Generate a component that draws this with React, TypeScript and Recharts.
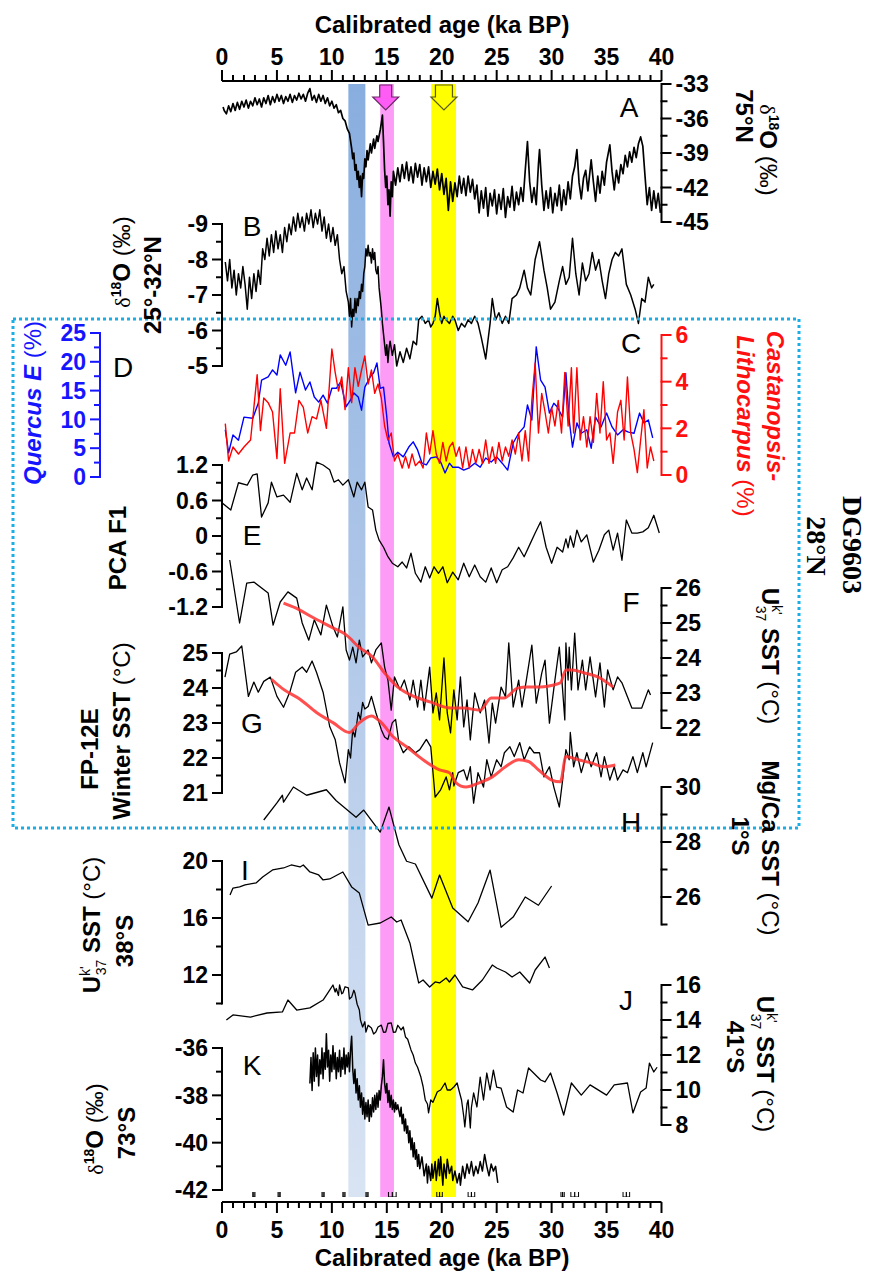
import React from 'react';
import {
  LineChart,
  Line,
  XAxis,
  YAxis,
  ComposedChart,
  ReferenceArea,
  ReferenceDot,
  Scatter,
  ErrorBar,
} from 'recharts';

const W = 872;
const H = 1274;
const X0 = 222; // pixel of 0 ka
const X40 = 661.5; // pixel of 40 ka
const FONT = '"Liberation Sans", Arial, Helvetica, sans-serif';
const SERIF = '"Liberation Serif", "Times New Roman", serif';

// ---------- data (age ka BP, value) ----------
const ageTicks = [0, 1, 2, 3, 4, 5, 6, 7, 8, 9, 10, 11, 12, 13, 14, 15, 16, 17, 18, 19, 20,
  21, 22, 23, 24, 25, 26, 27, 28, 29, 30, 31, 32, 33, 34, 35, 36, 37, 38, 39, 40];

const bands = [
  { name: 'YD', from: 11.5, to: 13.05, fill: 'url(#blueBand)' },
  { name: 'H1', from: 14.4, to: 15.65, fill: '#fd9cf6' },
  { name: 'LGM', from: 19.05, to: 21.3, fill: '#ffff00' },
];

const arrows = [
  { age: 14.9, fill: '#ff5cf5', stroke: '#6a2a66', shaft: 12, head: 26 },
  { age: 20.2, fill: '#ffff00', stroke: '#5a5a10', shaft: 17, head: 26 },
];

const ageControl = [
  { age: 2.9, err: 0.1 }, { age: 5.2, err: 0.1 }, { age: 9.2, err: 0.1 },
  { age: 11.1, err: 0.1 }, { age: 13.2, err: 0.1 }, { age: 15.5, err: 0.35 },
  { age: 19.8, err: 0.25 }, { age: 22.7, err: 0.3 }, { age: 31.0, err: 0.15 },
  { age: 32.1, err: 0.35 }, { age: 36.8, err: 0.3 },
];

// A: NGRIP d18O 75N
const ngrip: [number, number][] = [
  [0.1, -35.0], [0.2, -35.3], [0.4, -35.6], [0.6, -34.9], [0.8, -35.4], [1.0, -34.7], [1.2, -35.3], [1.4, -34.6],
  [1.6, -35.2], [1.8, -34.5], [2.0, -35.0], [2.2, -34.4], [2.4, -35.1], [2.6, -34.5], [2.8, -34.9], [3.0, -34.2],
  [3.2, -34.8], [3.4, -34.3], [3.6, -35.0], [3.8, -34.2], [4.0, -34.7], [4.2, -34.0], [4.4, -34.8], [4.6, -34.1],
  [4.8, -34.6], [5.0, -33.9], [5.2, -34.5], [5.4, -34.0], [5.6, -34.7], [5.8, -34.1], [6.0, -34.5], [6.2, -33.9],
  [6.4, -34.6], [6.6, -34.0], [6.8, -34.4], [7.0, -33.8], [7.2, -34.3], [7.4, -33.9], [7.6, -34.5], [7.8, -33.8],
  [8.0, -33.4], [8.2, -34.4], [8.4, -34.0], [8.6, -34.6], [8.8, -33.9], [9.0, -34.5], [9.2, -34.0], [9.4, -34.7],
  [9.6, -34.2], [9.8, -34.9], [10.0, -34.5], [10.2, -35.1], [10.4, -34.8], [10.6, -35.5], [10.8, -35.3], [11.0, -36.0],
  [11.2, -36.2], [11.4, -36.9], [11.6, -37.3], [11.8, -38.6], [11.9, -39.5], [12.0, -39.0], [12.1, -40.5], [12.2, -40.0],
  [12.3, -41.3], [12.4, -40.6], [12.5, -42.0], [12.6, -41.0], [12.7, -42.8], [12.8, -40.8], [12.9, -41.2], [13.0, -39.5],
  [13.1, -40.2], [13.2, -38.8], [13.3, -39.6], [13.5, -38.2], [13.6, -39.0], [13.8, -37.8], [13.9, -38.6], [14.1, -37.5],
  [14.2, -38.0], [14.4, -37.0], [14.5, -36.4], [14.6, -35.7], [14.7, -38.0], [14.8, -40.5], [14.9, -42.0], [15.0, -41.0],
  [15.1, -43.5], [15.2, -42.2], [15.3, -44.5], [15.4, -41.5], [15.5, -42.8], [15.6, -40.6], [15.8, -41.8], [16.0, -40.3],
  [16.2, -41.5], [16.4, -40.0], [16.6, -41.2], [16.8, -39.8], [17.0, -41.4], [17.2, -40.2], [17.4, -41.6], [17.6, -39.9],
  [17.8, -41.1], [18.0, -40.0], [18.2, -41.8], [18.4, -40.3], [18.6, -41.5], [18.8, -40.2], [19.0, -42.0], [19.2, -40.6],
  [19.4, -41.7], [19.6, -40.4], [19.8, -42.2], [20.0, -40.8], [20.2, -42.6], [20.4, -41.2], [20.6, -44.0], [20.8, -41.5],
  [21.0, -43.2], [21.2, -41.6], [21.4, -42.8], [21.6, -41.0], [21.8, -42.5], [22.0, -41.2], [22.2, -42.7], [22.4, -41.0],
  [22.6, -42.4], [22.8, -41.3], [23.0, -43.0], [23.2, -41.8], [23.4, -44.2], [23.6, -42.3], [23.8, -43.8], [24.0, -42.0],
  [24.2, -44.5], [24.4, -42.5], [24.6, -43.6], [24.8, -42.2], [25.0, -44.3], [25.2, -42.6], [25.4, -43.9], [25.6, -42.1],
  [25.8, -44.6], [26.0, -42.8], [26.2, -43.7], [26.4, -41.9], [26.6, -44.0], [26.8, -42.4], [27.0, -43.5], [27.2, -42.0],
  [27.4, -43.2], [27.6, -40.5], [27.8, -38.0], [28.0, -41.5], [28.2, -43.3], [28.4, -42.0], [28.6, -43.5], [28.8, -40.0],
  [28.9, -38.7], [29.1, -41.8], [29.3, -44.0], [29.5, -42.3], [29.7, -43.8], [29.9, -42.0], [30.1, -44.2], [30.3, -42.5],
  [30.5, -43.6], [30.7, -41.8], [30.9, -44.0], [31.1, -42.2], [31.3, -43.5], [31.5, -41.5], [31.7, -43.0], [31.9, -41.0],
  [32.1, -40.2], [32.3, -38.7], [32.5, -41.6], [32.7, -43.0], [32.9, -41.2], [33.1, -40.5], [33.3, -42.3], [33.6, -39.6],
  [33.8, -41.5], [34.0, -43.2], [34.2, -41.0], [34.4, -42.5], [34.6, -40.6], [34.8, -41.8], [35.0, -39.8], [35.3, -38.3],
  [35.5, -40.6], [35.7, -42.2], [35.9, -40.5], [36.1, -41.6], [36.3, -40.0], [36.5, -40.8], [36.7, -39.2], [36.9, -40.2],
  [37.1, -38.9], [37.3, -39.8], [37.5, -38.5], [37.7, -39.4], [37.9, -38.2], [38.1, -37.6], [38.3, -38.4], [38.5, -41.0],
  [38.7, -43.5], [38.9, -42.0], [39.1, -44.0], [39.3, -42.3], [39.5, -43.8], [39.7, -42.5], [39.9, -44.2],
];

// B: Chinese speleothem d18O 25-32N
const cave: [number, number][] = [
  [0.3, -7.93], [0.5, -7.4], [0.7, -8.0], [0.9, -7.2], [1.1, -7.7], [1.3, -7.0], [1.5, -7.6], [1.7, -7.2], [1.9, -7.8],
  [2.1, -7.3], [2.3, -6.6], [2.5, -7.5], [2.7, -6.9], [2.9, -7.6], [3.1, -7.1], [3.3, -7.7], [3.5, -7.3], [3.7, -8.3],
  [3.9, -8.0], [4.1, -8.6], [4.3, -8.1], [4.5, -8.7], [4.7, -8.2], [4.9, -8.8], [5.1, -8.3], [5.3, -8.7], [5.5, -8.2],
  [5.7, -8.9], [5.9, -8.5], [6.1, -9.0], [6.3, -8.7], [6.5, -9.2], [6.7, -8.8], [6.9, -9.3], [7.1, -8.9], [7.3, -9.2],
  [7.5, -8.8], [7.7, -9.3], [7.9, -9.0], [8.1, -9.4], [8.3, -8.9], [8.5, -9.3], [8.7, -9.0], [8.9, -9.4], [9.1, -8.8],
  [9.3, -9.2], [9.5, -8.6], [9.7, -9.0], [9.9, -8.5], [10.1, -8.9], [10.3, -8.4], [10.5, -8.7], [10.7, -8.0], [10.9, -7.6],
  [11.1, -7.8], [11.3, -7.1], [11.5, -6.8], [11.6, -6.4], [11.7, -6.9], [11.8, -6.1], [11.9, -6.6], [12.0, -6.4],
  [12.1, -6.9], [12.2, -6.5], [12.3, -6.9], [12.4, -6.7], [12.5, -7.1], [12.6, -6.9], [12.7, -7.3], [12.8, -7.1],
  [12.9, -7.6], [13.0, -7.8], [13.1, -8.3], [13.2, -8.1], [13.3, -8.4], [13.4, -8.1], [13.5, -8.2], [13.6, -7.9],
  [13.7, -8.3], [13.8, -8.0], [13.9, -8.2], [14.0, -7.7], [14.1, -7.6], [14.2, -7.8], [14.3, -7.2], [14.4, -6.9],
  [14.5, -6.6], [14.6, -6.2], [14.7, -5.9], [14.8, -5.6], [14.9, -5.3], [15.0, -5.6], [15.1, -5.1], [15.2, -5.5],
  [15.3, -5.7], [15.5, -5.3], [15.7, -5.6], [15.9, -5.0], [16.2, -5.4], [16.5, -5.1], [16.8, -5.5], [17.1, -5.2],
  [17.4, -5.7], [17.7, -5.6], [17.9, -6.3], [18.2, -6.4], [18.5, -6.2], [18.8, -6.3], [19.0, -6.1], [19.2, -6.2],
  [19.4, -6.4], [19.6, -6.9], [19.8, -6.5], [20.0, -6.2], [20.2, -6.4], [20.4, -6.3], [20.7, -6.2], [21.0, -6.4],
  [21.2, -6.3], [21.5, -6.0], [21.8, -6.2], [22.1, -6.1], [22.4, -6.3], [22.7, -6.2], [23.0, -6.4], [23.3, -6.2],
  [23.6, -5.8], [24.0, -5.2], [24.4, -6.2], [24.6, -6.9], [24.9, -6.3], [25.2, -6.5], [25.5, -6.2], [25.8, -6.4],
  [26.1, -6.2], [26.4, -6.9], [26.8, -7.0], [27.1, -7.2], [27.5, -7.7], [27.8, -7.2], [28.1, -7.0], [28.5, -8.0],
  [28.9, -8.5], [29.3, -7.7], [29.6, -7.2], [29.9, -6.6], [30.3, -6.8], [30.7, -7.4], [31.0, -7.8], [31.3, -7.3],
  [31.6, -7.5], [31.9, -8.6], [32.2, -7.6], [32.5, -7.0], [32.8, -7.9], [33.1, -7.4], [33.4, -7.6], [33.7, -8.2],
  [34.0, -7.7], [34.3, -8.0], [34.6, -7.4], [34.9, -6.9], [35.2, -7.6], [35.5, -8.0], [35.8, -8.2], [36.1, -8.1],
  [36.4, -8.3], [36.8, -7.3], [37.2, -7.0], [37.6, -6.6], [37.9, -6.2], [38.2, -6.9], [38.5, -6.8], [38.8, -7.5],
  [39.1, -7.2], [39.3, -7.3],
];

// D: Quercus E (%)
const quercus: [number, number][] = [
  [0.3, 8.2], [0.6, 4.2], [1.0, 7.3], [1.5, 6.4], [2.0, 10.4], [2.8, 10.2], [3.3, 12.8], [3.6, 16.8], [4.2, 17.4],
  [4.6, 18.6], [5.0, 17.7], [5.3, 21.2], [5.8, 19.4], [6.2, 21.7], [6.7, 14.6], [7.1, 18.2], [7.6, 15.1], [8.0, 16.5],
  [8.4, 13.9], [8.8, 13.0], [9.2, 14.2], [9.6, 12.8], [10.0, 15.4], [10.4, 15.4], [10.8, 16.5], [11.3, 12.2],
  [11.7, 13.4], [12.0, 14.6], [12.4, 13.9], [12.7, 11.6], [13.0, 15.6], [13.5, 17.4], [13.8, 18.1], [14.1, 19.8],
  [14.4, 15.4], [14.7, 15.6], [15.0, 10.4], [15.2, 5.9], [15.6, 3.5], [16.0, 4.3], [16.5, 3.5], [17.0, 5.2],
  [17.4, 6.1], [17.8, 4.7], [18.2, 2.4], [18.6, 2.1], [19.0, 3.3], [19.5, 3.5], [19.9, 2.6], [20.3, 0.7], [20.7, 2.4],
  [21.0, 1.7], [21.5, 1.7], [22.0, 1.2], [22.5, 1.6], [23.0, 2.4], [23.5, 1.7], [24.0, 3.3], [24.5, 2.6], [25.0, 3.5],
  [25.5, 2.4], [26.0, 1.2], [26.5, 5.9], [27.0, 7.6], [27.5, 8.7], [27.8, 12.5], [28.2, 9.9], [28.6, 22.6],
  [29.0, 16.8], [29.4, 15.6], [29.8, 11.1], [30.2, 12.8], [30.5, 12.2], [31.0, 10.4], [31.3, 18.1], [31.6, 9.9],
  [31.9, 5.2], [32.3, 9.4], [32.7, 7.6], [33.2, 8.2], [33.6, 5.0], [34.0, 10.4], [34.5, 8.7], [35.0, 11.1],
  [35.5, 8.7], [36.0, 7.3], [36.5, 8.2], [37.0, 7.8], [37.5, 7.6], [38.0, 11.1], [38.4, 9.4], [38.8, 9.9], [39.2, 6.8],
];

// C: Castanopsis-Lithocarpus (%)
const castanopsis: [number, number][] = [
  [0.3, 2.2], [0.6, 0.6], [1.0, 1.2], [1.5, 0.9], [2.0, 1.2], [2.6, 1.5], [3.2, 4.3], [3.5, 1.9], [3.8, 3.3], [4.2, 3.1],
  [4.6, 2.7], [5.0, 0.7], [5.3, 3.7], [5.7, 0.5], [6.2, 1.8], [6.6, 1.8], [7.0, 3.2], [7.4, 2.9], [7.8, 1.8], [8.2, 2.5],
  [8.6, 2.4], [9.0, 3.2], [9.5, 2.0], [10.0, 5.4], [10.3, 4.4], [10.6, 3.6], [10.9, 4.2], [11.2, 2.8], [11.5, 4.6],
  [11.8, 3.1], [12.1, 4.6], [12.4, 3.8], [12.7, 4.5], [13.0, 5.1], [13.3, 3.9], [13.6, 4.5], [13.9, 3.5], [14.2, 3.9],
  [14.5, 3.3], [14.8, 2.1], [15.1, 1.5], [15.4, 1.8], [15.7, 0.6], [16.0, 0.9], [16.4, 0.3], [16.7, 0.8], [17.0, 0.3],
  [17.3, 0.9], [17.6, 0.4], [18.0, 0.6], [18.3, 0.3], [18.6, 1.8], [18.9, 0.9], [19.2, 1.9], [19.5, 0.9], [19.8, 0.5],
  [20.1, 1.4], [20.4, 0.6], [20.7, 1.2], [21.0, 1.4], [21.3, 0.8], [21.6, 1.2], [21.9, 0.3], [22.2, 1.2], [22.5, 0.3],
  [22.8, 1.1], [23.1, 0.5], [23.4, 1.1], [23.7, 0.5], [24.0, 1.5], [24.3, 0.5], [24.6, 1.2], [24.9, 0.5], [25.2, 1.4],
  [25.5, 0.6], [25.8, 1.2], [26.1, 0.8], [26.4, 1.5], [26.7, 0.9], [27.0, 1.8], [27.3, 0.6], [27.6, 1.9], [27.9, 0.6],
  [28.2, 3.2], [28.5, 4.8], [28.8, 1.8], [29.1, 3.5], [29.4, 2.7], [29.7, 1.8], [30.0, 2.9], [30.3, 2.1], [30.6, 3.2],
  [30.9, 1.8], [31.2, 4.4], [31.5, 2.1], [31.8, 4.6], [32.0, 1.8], [32.3, 4.6], [32.6, 1.5], [32.9, 2.5], [33.2, 1.2],
  [33.5, 2.5], [33.8, 1.4], [34.1, 3.5], [34.4, 1.8], [34.7, 4.0], [35.0, 1.5], [35.3, 1.8], [35.6, 0.5], [36.0, 2.7],
  [36.3, 3.2], [36.6, 1.5], [36.9, 4.2], [37.2, 1.8], [37.5, 1.1], [37.8, 0.1], [38.1, 1.5], [38.4, 2.8], [38.7, 0.3],
  [39.0, 1.2], [39.3, 0.6],
];

// E: PCA F1
const pcaF1: [number, number][] = [
  [0.0, 0.56], [0.8, 0.44], [1.5, 0.9], [2.3, 0.86], [2.8, 1.03], [3.2, 1.05], [3.6, 0.32], [4.2, 0.56], [4.5, 0.91],
  [5.0, 0.66], [5.6, 0.69], [6.2, 0.57], [6.8, 1.06], [7.3, 0.78], [7.7, 0.98], [8.2, 0.78], [8.6, 1.25], [9.2, 1.2],
  [9.8, 1.12], [10.2, 0.91], [10.6, 0.95], [11.0, 0.86], [11.5, 0.95], [12.0, 0.66], [12.3, 0.91], [12.7, 0.78],
  [13.0, 0.91], [13.3, 0.49], [13.7, 0.44], [14.0, 0.1], [14.3, -0.07], [14.7, -0.19], [15.1, -0.35], [15.5, -0.46],
  [16.0, -0.52], [16.4, -0.44], [16.8, -0.54], [17.2, -0.29], [17.6, -0.63], [18.1, -0.78], [18.5, -0.52],
  [18.9, -0.71], [19.3, -0.52], [19.7, -0.63], [20.1, -0.52], [20.5, -0.79], [21.0, -0.61], [21.5, -0.74],
  [22.0, -0.46], [22.5, -0.69], [23.0, -0.49], [23.5, -0.69], [24.0, -0.78], [24.5, -0.54], [25.0, -0.79],
  [25.5, -0.57], [26.0, -0.52], [26.5, -0.37], [27.0, -0.19], [27.5, -0.35], [28.0, -0.15], [28.5, 0.05],
  [29.0, 0.24], [29.5, -0.19], [30.0, -0.46], [30.5, -0.19], [31.0, -0.27], [31.3, -0.05], [31.5, -0.2], [31.7, 0.0],
  [32.0, -0.19], [32.3, 0.1], [32.7, -0.1], [33.2, 0.02], [33.8, -0.44], [34.3, -0.24], [34.8, 0.02], [35.2, 0.1],
  [35.6, -0.24], [36.0, 0.05], [36.4, -0.41], [36.8, 0.27], [37.3, 0.05], [37.8, 0.05], [38.3, 0.07], [38.8, 0.14],
  [39.3, 0.35], [39.8, 0.05],
];

// F: DG9603 Uk37 SST
const dgSst: [number, number][] = [
  [0.7, 26.8], [1.6, 25.0], [2.25, 26.14], [2.9, 26.17], [4.2, 25.86], [4.65, 24.94], [5.3, 25.6], [6.0, 25.89],
  [6.8, 25.71], [7.3, 25.0], [7.9, 24.51], [8.4, 25.09], [9.0, 24.66], [9.5, 25.51], [10.1, 24.89], [10.5, 24.6],
  [11.0, 25.46], [11.3, 24.23], [11.6, 23.94], [11.9, 24.31], [12.2, 23.86], [12.5, 24.51], [12.8, 24.03],
  [13.3, 24.23], [13.6, 23.86], [14.0, 24.23], [14.5, 24.43], [14.8, 23.74], [15.1, 23.37], [15.4, 22.51],
  [15.7, 23.46], [16.2, 23.09], [16.6, 23.37], [17.1, 22.8], [17.4, 23.37], [17.8, 22.6], [18.1, 23.37], [18.4, 22.51],
  [18.9, 23.74], [19.2, 22.43], [19.5, 23.0], [19.8, 22.23], [20.2, 24.0], [20.5, 22.43], [20.8, 21.86], [21.1, 23.09],
  [21.4, 22.23], [21.7, 23.46], [22.0, 22.03], [22.3, 22.8], [22.6, 21.66], [23.0, 23.0], [23.5, 22.43], [23.9, 22.8],
  [24.3, 21.57], [24.6, 22.71], [24.9, 22.14], [25.4, 23.17], [25.8, 22.89], [26.1, 24.43], [26.5, 22.6], [27.0, 23.37],
  [27.3, 22.6], [27.7, 23.37], [28.2, 24.37], [28.6, 22.71], [29.1, 23.57], [29.4, 23.94], [29.8, 22.14], [30.3, 23.37],
  [30.7, 24.31], [31.0, 23.09], [31.2, 22.23], [31.3, 24.43], [31.5, 23.37], [31.6, 24.31], [31.8, 23.09], [32.1, 24.71],
  [32.4, 23.09], [32.8, 23.94], [33.1, 23.09], [33.5, 24.03], [34.0, 22.89], [34.4, 23.86], [34.8, 22.6], [35.1, 23.66],
  [35.6, 23.09], [36.0, 23.46], [36.4, 23.29], [36.9, 22.89], [37.3, 22.57], [38.2, 22.57], [38.8, 23.09], [39.0, 22.94],
];
const dgSstSmooth: [number, number][] = [
  [5.6, 25.57], [6.7, 25.43], [8.2, 25.17], [10.1, 24.86], [11.3, 24.66], [12.5, 24.3], [13.7, 24.03], [14.8, 23.57],
  [16.0, 23.17], [17.2, 22.94], [19.0, 22.74], [20.8, 22.57], [22.0, 22.57], [23.5, 22.51], [24.5, 22.86], [25.7, 22.86],
  [26.9, 23.14], [27.8, 23.17], [29.0, 23.17], [30.2, 23.23], [30.8, 23.29], [31.3, 23.66], [31.9, 23.66], [33.0, 23.57],
  [34.2, 23.46], [35.6, 23.17],
];

// G: FP-12E winter SST
const fpSst: [number, number][] = [
  [0.27, 24.31], [0.7, 24.97], [1.3, 25.03], [1.8, 25.2], [2.4, 23.76], [2.9, 24.17], [3.3, 23.88], [3.8, 24.19],
  [4.4, 24.31], [5.0, 23.76], [5.6, 23.45], [6.2, 23.91], [6.7, 24.45], [7.3, 24.6], [7.7, 24.45], [8.2, 24.77],
  [8.6, 24.45], [9.2, 23.88], [9.8, 22.9], [10.3, 22.53], [10.7, 21.86], [11.2, 21.29], [11.5, 22.24], [11.7, 22.0],
  [11.9, 22.81], [12.1, 22.6], [12.4, 23.3], [12.6, 23.1], [12.8, 23.59], [13.0, 23.4], [13.3, 23.47], [13.6, 23.76],
  [14.0, 23.3], [14.5, 22.81], [14.8, 22.6], [15.1, 22.53], [15.5, 23.01], [15.8, 23.1], [16.1, 22.44], [16.5, 22.15],
  [17.0, 22.32], [17.6, 22.15], [18.0, 22.24], [18.6, 22.53], [19.0, 22.32], [19.2, 21.6], [19.4, 20.88], [19.9, 21.09],
  [20.4, 21.46], [20.7, 21.09], [21.0, 21.58], [21.1, 21.2], [21.5, 21.58], [22.0, 21.66], [22.3, 21.37], [22.6, 21.75],
  [22.9, 20.71], [23.3, 21.58], [23.8, 21.17], [24.1, 21.95], [24.5, 21.46], [25.0, 21.95], [25.4, 21.75], [25.7, 22.15],
  [26.2, 22.32], [26.6, 22.04], [27.1, 22.44], [27.5, 21.95], [28.0, 22.32], [28.4, 22.15], [28.9, 22.15], [29.3, 21.46],
  [29.8, 21.75], [30.2, 21.17], [30.7, 20.6], [31.0, 21.37], [31.3, 22.24], [31.6, 21.95], [31.7, 22.73], [32.0, 21.75],
  [32.3, 22.15], [32.7, 21.58], [33.2, 22.15], [33.6, 21.75], [34.1, 22.15], [34.5, 21.46], [34.8, 22.04], [35.3, 21.37],
  [35.7, 21.75], [36.0, 21.37], [36.5, 21.66], [36.9, 21.58], [37.4, 22.04], [37.8, 21.58], [38.3, 22.15], [38.6, 21.75],
  [39.2, 22.44],
];
const fpSstSmooth: [number, number][] = [
  [4.5, 24.25], [5.6, 23.96], [7.1, 23.68], [8.6, 23.3], [10.1, 23.01], [11.6, 22.73], [12.5, 23.01], [13.6, 23.2],
  [14.5, 23.01], [15.6, 22.6], [16.8, 22.32], [18.3, 21.95], [19.8, 21.66], [20.7, 21.58], [21.3, 21.29], [22.2, 21.17],
  [23.4, 21.29], [24.6, 21.46], [25.8, 21.75], [27.0, 21.95], [27.9, 21.9], [28.8, 21.66], [30.0, 21.37], [30.8, 21.32],
  [31.3, 22.04], [32.4, 21.95], [33.6, 21.86], [34.8, 21.75], [35.8, 21.8],
];

// H: Mg/Ca SST 1S
const mgca: [number, number][] = [
  [3.8, 28.8], [5.0, 29.42], [5.5, 29.7], [5.6, 29.45], [6.5, 30.0], [7.7, 29.7], [9.5, 29.9], [10.4, 29.5],
  [12.2, 28.9], [12.9, 29.16], [14.4, 28.36], [15.2, 29.27], [16.1, 27.9], [16.8, 27.3], [17.6, 27.2], [19.1, 25.96],
  [19.8, 26.8], [21.0, 25.6], [22.4, 25.1], [23.3, 25.78], [24.4, 26.98], [25.4, 24.9], [26.5, 25.27], [27.6, 26.0],
  [28.8, 25.7], [30.0, 26.4],
];

// I: Uk37 SST 38S
const sst38s: [number, number][] = [
  [0.73, 17.61], [1.0, 18.1], [1.6, 18.18], [2.1, 18.32], [3.1, 18.46], [3.7, 18.88], [4.6, 19.37], [5.6, 19.51],
  [6.3, 19.72], [7.1, 19.58], [7.4, 19.72], [8.0, 19.23], [8.8, 19.02], [9.2, 18.67], [9.8, 18.74], [11.0, 19.23],
  [11.8, 18.18], [12.5, 17.75], [13.3, 15.5], [14.4, 15.65], [15.4, 16.07], [15.9, 15.72], [16.3, 15.86], [17.1, 14.25],
  [17.7, 12.14], [17.9, 11.44], [18.3, 11.65], [18.9, 11.16], [19.4, 11.51], [19.8, 11.44], [20.4, 11.79], [20.7, 11.51],
  [21.2, 12.0], [21.9, 11.16], [22.8, 10.95], [23.7, 11.65], [24.6, 12.7], [25.0, 12.49], [25.8, 12.21], [26.4, 11.86],
  [27.1, 12.21], [28.0, 11.44], [28.5, 12.35], [29.4, 13.26], [29.8, 12.49],
];

// J: Uk37 SST 41S
const sst41s: [number, number][] = [
  [0.4, 14.0], [1.0, 14.29], [2.6, 14.17], [4.1, 14.4], [5.5, 14.46], [6.0, 15.14], [6.8, 14.57], [8.0, 14.69],
  [9.2, 15.14], [9.8, 15.71], [10.1, 16.0], [10.3, 15.6], [10.4, 15.8], [10.6, 15.4], [10.7, 16.0], [10.9, 15.5],
  [11.0, 15.54], [11.2, 15.9], [11.5, 15.83], [11.6, 15.2], [11.8, 15.31], [12.0, 15.7], [12.1, 15.54], [12.3, 14.9],
  [12.4, 14.74], [12.5, 14.57], [12.6, 14.0], [12.8, 13.6], [13.0, 13.9], [13.1, 13.31], [13.3, 13.7], [13.6, 13.54],
  [13.8, 13.2], [14.0, 13.31], [14.2, 13.6], [14.5, 13.71], [14.7, 13.3], [14.9, 13.31], [15.1, 13.8], [15.4, 13.83],
  [15.6, 13.3], [15.8, 13.31], [16.0, 13.7], [16.3, 13.43], [16.5, 13.6], [16.7, 13.03], [16.9, 12.9], [17.2, 12.29],
  [17.4, 12.0], [17.6, 11.54], [17.8, 11.3], [18.1, 10.74], [18.3, 10.2], [18.5, 9.43], [18.7, 9.2], [18.8, 8.69],
  [19.0, 9.43], [19.2, 9.3], [19.4, 9.6], [19.6, 9.9], [19.9, 10.0], [20.1, 10.2], [20.3, 10.4], [20.5, 10.0],
  [20.8, 10.0], [21.1, 10.17], [21.4, 10.4], [21.6, 9.9], [21.8, 9.43], [22.0, 8.5], [22.1, 7.89], [22.3, 9.2],
  [22.4, 9.43], [22.6, 7.83], [22.7, 9.0], [22.9, 9.83], [23.2, 9.03], [23.5, 10.74], [23.8, 9.43], [24.1, 10.97],
  [24.4, 10.0], [24.7, 11.14], [25.0, 10.17], [25.4, 10.11], [25.9, 9.03], [26.5, 8.74], [26.9, 10.0], [27.4, 9.83],
  [27.9, 11.26], [29.0, 10.57], [29.4, 10.46], [29.9, 10.97], [30.5, 9.83], [31.1, 8.57], [31.8, 10.4], [32.7, 9.71],
  [33.5, 10.29], [35.0, 9.71], [35.7, 10.29], [36.9, 10.4], [37.4, 8.69], [38.1, 9.89], [38.6, 10.11], [38.9, 11.54],
  [39.3, 11.03], [39.6, 11.3],
];

// K: Antarctic d18O 73S
const antarctic: [number, number][] = [
  [8.0, -37.5], [8.1, -36.4], [8.2, -37.8], [8.3, -36.2], [8.4, -37.4], [8.5, -36.0], [8.6, -37.2], [8.7, -36.3],
  [8.8, -37.6], [8.9, -36.5], [9.0, -37.1], [9.1, -36.0], [9.2, -37.3], [9.3, -36.2], [9.4, -36.9], [9.5, -35.4],
  [9.6, -36.8], [9.7, -36.1], [9.8, -37.4], [9.9, -36.3], [10.0, -37.0], [10.1, -35.9], [10.2, -36.9], [10.3, -36.2],
  [10.4, -37.3], [10.5, -36.4], [10.6, -37.0], [10.7, -36.1], [10.8, -37.2], [10.9, -36.4], [11.0, -36.9], [11.1, -36.0],
  [11.2, -37.1], [11.3, -36.3], [11.4, -36.8], [11.5, -36.2], [11.6, -37.0], [11.7, -36.1], [11.8, -35.5], [11.9, -36.9],
  [12.0, -37.5], [12.1, -36.9], [12.2, -37.9], [12.3, -37.3], [12.4, -38.2], [12.5, -37.6], [12.6, -38.5], [12.7, -37.9],
  [12.8, -38.8], [12.9, -38.1], [13.0, -39.0], [13.1, -38.3], [13.2, -38.9], [13.3, -38.2], [13.4, -39.1], [13.5, -38.4],
  [13.6, -38.9], [13.7, -38.1], [13.8, -38.7], [13.9, -38.0], [14.0, -38.6], [14.1, -37.9], [14.2, -38.5], [14.3, -37.8],
  [14.4, -38.2], [14.5, -37.6], [14.6, -37.2], [14.7, -36.5], [14.8, -37.5], [14.9, -37.9], [15.0, -37.5], [15.1, -38.3],
  [15.2, -37.8], [15.3, -38.5], [15.4, -38.0], [15.5, -38.6], [15.6, -38.2], [15.7, -38.7], [15.8, -38.3], [15.9, -38.6],
  [16.0, -38.4], [16.2, -38.9], [16.3, -38.5], [16.4, -39.2], [16.5, -38.8], [16.6, -39.5], [16.7, -39.0], [16.8, -39.6],
  [16.9, -39.3], [17.0, -40.0], [17.1, -39.5], [17.2, -40.3], [17.3, -39.8], [17.4, -40.6], [17.5, -40.0], [17.6, -40.7],
  [17.7, -40.3], [17.8, -41.0], [17.9, -40.5], [18.0, -41.1], [18.2, -40.6], [18.4, -41.4], [18.6, -40.9], [18.7, -41.7],
  [18.8, -41.0], [19.0, -41.6], [19.1, -40.9], [19.2, -41.5], [19.4, -40.8], [19.5, -41.6], [19.7, -40.7], [19.8, -41.4],
  [19.9, -40.6], [20.1, -41.8], [20.2, -40.9], [20.4, -41.5], [20.5, -40.7], [20.7, -41.3], [20.9, -41.0], [21.0, -41.6],
  [21.2, -41.2], [21.4, -41.7], [21.6, -41.3], [21.7, -41.8], [21.9, -41.0], [22.1, -41.5], [22.3, -40.9], [22.5, -41.3],
  [22.7, -40.8], [22.9, -41.4], [23.1, -41.0], [23.3, -41.3], [23.5, -40.8], [23.7, -41.2], [23.9, -40.5], [24.1, -41.0],
  [24.3, -41.4], [24.5, -40.9], [24.7, -41.2], [24.9, -41.0], [25.1, -41.7],
];

// axis ticks (all ticks, then labelled ticks)
const ticksA = [-33, -34.5, -36, -37.5, -39, -40.5, -42, -43.5, -45];
const labelsA = [-33, -36, -39, -42, -45];
const ticksB = [-9, -8.5, -8, -7.5, -7, -6.5, -6, -5.5, -5];
const labelsB = [-9, -8, -7, -6, -5];
const ticksD = [25, 22.5, 20, 17.5, 15, 12.5, 10, 7.5, 5, 2.5, 0];
const labelsD = [25, 20, 15, 10, 5, 0];
const ticksC = [6, 5, 4, 3, 2, 1, 0];
const labelsC = [6, 4, 2, 0];
const ticksE = [1.2, 0.9, 0.6, 0.3, 0, -0.3, -0.6, -0.9, -1.2];
const labelsE = [1.2, 0.6, 0, -0.6, -1.2];
const ticksF = [26, 25.5, 25, 24.5, 24, 23.5, 23, 22.5, 22];
const labelsF = [26, 25, 24, 23, 22];
const ticksG = [25, 24.5, 24, 23.5, 23, 22.5, 22, 21.5, 21];
const labelsG = [25, 24, 23, 22, 21];
const ticksH = [30, 29, 28, 27, 26, 25];
const labelsH = [30, 28, 26];
const ticksI = [20, 18, 16, 14, 12, 10];
const labelsI = [20, 16, 12];
const ticksJ = [16, 15, 14, 13, 12, 11, 10, 9, 8];
const labelsJ = [16, 14, 12, 10, 8];
const ticksK = [-36, -37, -38, -39, -40, -41, -42];
const labelsK = [-36, -38, -40, -42];

// ---------- helpers ----------
type Pt = [number, number];
type AxisCfg = {
  id: string;
  side: 'left' | 'right';
  x: number;
  color: string;
  v1: number; p1: number; v2: number; p2: number;
  ticks: number[];
  labels: number[];
  reversed?: boolean;
};
type SeriesCfg = { axis: string; data: Pt[]; color: string; width: number; smooth?: boolean; opacity?: number };

const tickFont = { fontFamily: FONT, fontWeight: 700, fontSize: 23 };

const makeTick = (a: AxisCfg) => (props: any) => {
  const { y, payload } = props;
  const v = payload.value as number;
  const pxPer = (a.p2 - a.p1) / (a.v2 - a.v1);
  const idx = a.ticks.findIndex((t) => Math.abs(t - v) < 1e-9);
  const major = a.labels.some((l) => Math.abs(l - v) < 1e-9);
  const dir = a.side === 'left' ? -1 : 1;
  const next = a.ticks[idx + 1];
  const nextY = next === undefined ? null : y + (next - v) * pxPer;
  return (
    <g>
      <line x1={a.x} x2={a.x + dir * (major ? 10 : 6)} y1={y} y2={y} stroke={a.color} strokeWidth={2} />
      {nextY !== null && <line x1={a.x} x2={a.x} y1={y - 1} y2={nextY + 1} stroke={a.color} strokeWidth={2} />}
      {major && (
        <text x={a.x + dir * 14} y={y} dy="0.36em" textAnchor={dir < 0 ? 'end' : 'start'} fill={a.color} style={tickFont}>
          {String(v)}
        </text>
      )}
    </g>
  );
};

// each panel chart is padded so tick labels at the axis ends are not clipped
const PAD = 18;

function Panel({ top, bottom, axes, series }: { top: number; bottom: number; axes: AxisCfg[]; series: SeriesCfg[] }) {
  const AW = 10;
  const t = top - PAD;
  const b = bottom + PAD;
  const hasLeft = axes.some((a) => a.side === 'left');
  const hasRight = axes.some((a) => a.side === 'right');
  return (
    <div style={{ position: 'absolute', left: 0, top: t }}>
      <LineChart
        width={W}
        height={b - t}
        margin={{ top: 0, bottom: 0, left: X0 - (hasLeft ? AW : 0), right: W - X40 - (hasRight ? AW : 0) }}
      >
        <XAxis type="number" dataKey="age" domain={[0, 40]} allowDataOverflow hide />
        {axes.map((a) => {
          const s = (a.v2 - a.v1) / (a.p2 - a.p1);
          const atTop = a.v1 + (t - a.p1) * s;
          const atBottom = a.v1 + (b - a.p1) * s;
          const domain = a.reversed ? [atTop, atBottom] : [atBottom, atTop];
          return (
            <YAxis
              key={a.id}
              yAxisId={a.id}
              orientation={a.side}
              width={AW}
              type="number"
              domain={domain}
              allowDataOverflow
              reversed={a.reversed}
              ticks={a.ticks}
              interval={0}
              axisLine={false}
              tickLine={false}
              tick={makeTick(a)}
            />
          );
        })}
        {series.map((s, i) => (
          <Line
            key={i}
            yAxisId={s.axis}
            data={s.data.map(([age, v]) => ({ age, v }))}
            dataKey="v"
            type={s.smooth ? 'monotone' : 'linear'}
            stroke={s.color}
            strokeWidth={s.width}
            strokeOpacity={s.opacity ?? 1}
            strokeLinejoin="round"
            dot={false}
            isAnimationActive={false}
          />
        ))}
      </LineChart>
    </div>
  );
}

const BAND_TOP = 84;
const BAND_BOTTOM = 1197;

const arrowShape = (a: (typeof arrows)[number]) => (p: any) => {
  const { cx, cy } = p;
  const sh = a.shaft / 2;
  const hd = a.head / 2;
  const d = `M${cx - sh},${cy + 1} L${cx + sh},${cy + 1} L${cx + sh},${cy + 13} L${cx + hd},${cy + 13} L${cx},${cy + 26} L${cx - hd},${cy + 13} L${cx - sh},${cy + 13} Z`;
  return <path d={d} fill={a.fill} stroke={a.stroke} strokeWidth={1.2} />;
};

const markerShape = (p: any) => {
  const { cx, cy } = p;
  return <line x1={cx} x2={cx} y1={cy - 5} y2={cy + 1} stroke="#000" strokeWidth={1.2} />;
};

function BandsChart() {
  return (
    <div style={{ position: 'absolute', left: 0, top: BAND_TOP }}>
      <ComposedChart width={W} height={BAND_BOTTOM - BAND_TOP} margin={{ top: 0, bottom: 0, left: X0, right: W - X40 }}>
        <defs>
          <linearGradient id="blueBand" x1="0" y1="0" x2="0" y2="1">
            <stop offset="0%" stopColor="#88aedf" />
            <stop offset="45%" stopColor="#aec6e8" />
            <stop offset="100%" stopColor="#d9e4f3" />
          </linearGradient>
        </defs>
        <XAxis type="number" dataKey="age" domain={[0, 40]} hide />
        <YAxis type="number" dataKey="y" domain={[0, 1]} hide />
        {bands.map((b) => (
          <ReferenceArea key={b.name} x1={b.from} x2={b.to} fill={b.fill} fillOpacity={1} stroke="none" />
        ))}
        {arrows.map((a) => (
          <ReferenceDot key={a.age} x={a.age} y={1} r={1} shape={arrowShape(a)} ifOverflow="visible" />
        ))}
        <Scatter data={ageControl.map((d) => ({ ...d, y: 0 }))} shape={markerShape} isAnimationActive={false}>
          <ErrorBar dataKey="err" direction="x" width={5} stroke="#000" strokeWidth={1} />
        </Scatter>
      </ComposedChart>
    </div>
  );
}

const AX_TOP = 81;
const AX_BOTTOM = 1202;

const topTick = (props: any) => {
  const { x, payload } = props;
  const v = payload.value as number;
  const major = v % 5 === 0;
  return (
    <g>
      <line x1={x} x2={x} y1={AX_TOP} y2={AX_TOP - (major ? 11 : 6)} stroke="#000" strokeWidth={2} />
      {major && (
        <text x={x} y={65} textAnchor="middle" fill="#000" style={tickFont}>
          {v}
        </text>
      )}
    </g>
  );
};

const bottomTick = (props: any) => {
  const { x, payload } = props;
  const v = payload.value as number;
  const major = v % 5 === 0;
  return (
    <g>
      <line x1={x} x2={x} y1={AX_BOTTOM} y2={AX_BOTTOM + (major ? 11 : 6)} stroke="#000" strokeWidth={2} />
      {major && (
        <text x={x} y={1238} textAnchor="middle" fill="#000" style={tickFont}>
          {v}
        </text>
      )}
    </g>
  );
};

function AxesChart() {
  return (
    <div style={{ position: 'absolute', left: 0, top: 0 }}>
      <LineChart width={W} height={H} margin={{ top: 0, bottom: 0, left: X0, right: W - X40 }}>
        <XAxis
          xAxisId="top"
          orientation="top"
          type="number"
          dataKey="age"
          domain={[0, 40]}
          allowDataOverflow
          ticks={ageTicks}
          interval={0}
          height={AX_TOP}
          tickLine={false}
          axisLine={{ stroke: '#000', strokeWidth: 2 }}
          tick={topTick}
        />
        <XAxis
          xAxisId="bottom"
          orientation="bottom"
          type="number"
          dataKey="age"
          domain={[0, 40]}
          allowDataOverflow
          ticks={ageTicks}
          interval={0}
          height={H - AX_BOTTOM}
          tickLine={false}
          axisLine={{ stroke: '#000', strokeWidth: 2 }}
          tick={bottomTick}
        />
        <YAxis hide domain={[0, 1]} />
      </LineChart>
    </div>
  );
}

// ---------- text overlay ----------
const bold = { fontFamily: FONT, fontWeight: 700, fontSize: 24 };
const thin = { fontWeight: 400 };

function VText({ x, y, up, children, style, fill = '#000' }: { x: number; y: number; up?: boolean; children: React.ReactNode; style?: React.CSSProperties; fill?: string }) {
  const size = Number(style?.fontSize ?? bold.fontSize);
  return (
    <text transform={`translate(${x},${y}) rotate(${up ? -90 : 90})`} y={size * 0.35} textAnchor="middle" fill={fill} style={{ ...bold, ...style }}>
      {children}
    </text>
  );
}

const D18O = () => (
  <>
    <tspan style={{ fontWeight: 400, fontFamily: SERIF, fontSize: 22 }}>δ</tspan>
    <tspan style={{ fontSize: 14 }} dy={-9}>18</tspan>
    <tspan dy={9}>O</tspan>
    <tspan style={thin}> (‰)</tspan>
  </>
);

const UK37 = () => (
  <>
    <tspan>U</tspan>
    <tspan style={{ fontSize: 14, fontWeight: 400 }} dy={-10}>k'</tspan>
    <tspan style={{ fontSize: 14, fontWeight: 400 }} dx={-9} dy={16}>37</tspan>
    <tspan dy={-6}> SST</tspan>
    <tspan style={thin}> (°C)</tspan>
  </>
);

const letterStyle = { fontFamily: FONT, fontSize: 28, fontWeight: 400 };
const letters = [
  ['A', 629, 117], ['B', 252, 236], ['C', 631, 353], ['D', 123, 377], ['E', 252, 545], ['F', 631, 612],
  ['G', 252, 733], ['H', 631, 832], ['I', 245, 880], ['J', 626, 1010], ['K', 252, 1075],
] as const;

function Overlay() {
  return (
    <svg width={W} height={H} style={{ position: 'absolute', left: 0, top: 0, pointerEvents: 'none' }}>
      <rect x={13} y={319} width={786} height={509} fill="none" stroke="#19aee6" strokeWidth={3} strokeDasharray="3 3" />
      <text x={442} y={33} textAnchor="middle" style={bold}>Calibrated age (ka BP)</text>
      <text x={442} y={1266} textAnchor="middle" style={bold}>Calibrated age (ka BP)</text>
      {letters.map(([t, x, y]) => (
        <text key={t} x={x} y={y} textAnchor="middle" style={letterStyle}>{t}</text>
      ))}

      {/* A */}
      <VText x={768} y={150}><D18O /></VText>
      <VText x={744} y={116}>75°N</VText>
      {/* B */}
      <VText x={122} y={262} up><D18O /></VText>
      <VText x={153} y={285} up>25°-32°N</VText>
      {/* D */}
      <VText x={33} y={403} up fill="#1515ff">
        <tspan style={{ fontStyle: 'italic' }}>Quercus E</tspan>
        <tspan style={thin}> (%)</tspan>
      </VText>
      {/* C */}
      <VText x={775} y={406} fill="#ff1010"><tspan style={{ fontStyle: 'italic' }}>Castanopsis-</tspan></VText>
      <VText x={745} y={426} fill="#ff1010">
        <tspan style={{ fontStyle: 'italic' }}>Lithocarpus</tspan>
        <tspan style={thin}> (%)</tspan>
      </VText>
      {/* DG9603 */}
      <VText x={853} y={545} style={{ fontFamily: SERIF, fontSize: 28 }}>DG9603</VText>
      <VText x={817} y={546} style={{ fontFamily: SERIF, fontSize: 28 }}>28°N</VText>
      {/* E */}
      <VText x={118} y={548} up>PCA F1</VText>
      {/* F */}
      <VText x={770} y={656}><UK37 /></VText>
      {/* G */}
      <VText x={90} y={749} up>FP-12E</VText>
      <VText x={122} y={731} up>
        <tspan>Winter SST</tspan>
        <tspan style={thin}> (°C)</tspan>
      </VText>
      {/* H */}
      <VText x={770} y={848}>
        <tspan>Mg/Ca SST</tspan>
        <tspan style={thin}> (°C)</tspan>
      </VText>
      <VText x={740} y={836}>1°S</VText>
      {/* I */}
      <VText x={92} y={925} up><UK37 /></VText>
      <VText x={125} y={941} up>38°S</VText>
      {/* J */}
      <VText x={765} y={1064}><UK37 /></VText>
      <VText x={735} y={1047}>41°S</VText>
      {/* K */}
      <VText x={95} y={1129} up><D18O /></VText>
      <VText x={127} y={1133} up>73°S</VText>
    </svg>
  );
}

// ---------- panels ----------
const R = X40; // right axis pixel
const L = X0; // left axis pixel

export default function App() {
  return (
    <div style={{ position: 'absolute', left: 0, top: 0, width: W, height: H, background: '#fff', fontFamily: FONT }}>
      <BandsChart />
      <Panel
        top={80}
        bottom={226}
        axes={[{ id: 'a', side: 'right', x: R, color: '#000', v1: -33, p1: 84, v2: -45, p2: 222, ticks: ticksA, labels: labelsA }]}
        series={[{ axis: 'a', data: ngrip, color: '#000', width: 1.7 }]}
      />
      <Panel
        top={200}
        bottom={380}
        axes={[{ id: 'b', side: 'left', x: L, color: '#000', v1: -9, p1: 224, v2: -5, p2: 366, ticks: ticksB, labels: labelsB, reversed: true }]}
        series={[{ axis: 'b', data: cave, color: '#000', width: 1.5 }]}
      />
      <Panel
        top={325}
        bottom={485}
        axes={[
          { id: 'd', side: 'left', x: 100, color: '#1515ff', v1: 25, p1: 333, v2: 0, p2: 477, ticks: ticksD, labels: labelsD },
          { id: 'c', side: 'right', x: R, color: '#ff1010', v1: 6, p1: 335, v2: 0, p2: 475, ticks: ticksC, labels: labelsC },
        ]}
        series={[
          { axis: 'd', data: quercus, color: '#0000ff', width: 1.4 },
          { axis: 'c', data: castanopsis, color: '#ff0000', width: 1.4 },
        ]}
      />
      <Panel
        top={455}
        bottom={615}
        axes={[{ id: 'e', side: 'left', x: L, color: '#000', v1: 1.2, p1: 465, v2: -1.2, p2: 607, ticks: ticksE, labels: labelsE }]}
        series={[{ axis: 'e', data: pcaF1, color: '#000', width: 1.3 }]}
      />
      <Panel
        top={550}
        bottom={750}
        axes={[{ id: 'f', side: 'right', x: R, color: '#000', v1: 26, p1: 588, v2: 22, p2: 728, ticks: ticksF, labels: labelsF }]}
        series={[
          { axis: 'f', data: dgSst, color: '#000', width: 1.3 },
          { axis: 'f', data: dgSstSmooth, color: '#ff3030', width: 3, smooth: true, opacity: 0.85 },
        ]}
      />
      <Panel
        top={640}
        bottom={815}
        axes={[{ id: 'g', side: 'left', x: L, color: '#000', v1: 25, p1: 653, v2: 21, p2: 793, ticks: ticksG, labels: labelsG }]}
        series={[
          { axis: 'g', data: fpSst, color: '#000', width: 1.3 },
          { axis: 'g', data: fpSstSmooth, color: '#ff3030', width: 3, smooth: true, opacity: 0.85 },
        ]}
      />
      <Panel
        top={780}
        bottom={935}
        axes={[{ id: 'h', side: 'right', x: R, color: '#000', v1: 30, p1: 787, v2: 26, p2: 897, ticks: ticksH, labels: labelsH }]}
        series={[{ axis: 'h', data: mgca, color: '#000', width: 1.3 }]}
      />
      <Panel
        top={855}
        bottom={1010}
        axes={[{ id: 'i', side: 'left', x: L, color: '#000', v1: 20, p1: 861, v2: 12, p2: 975, ticks: ticksI, labels: labelsI }]}
        series={[{ axis: 'i', data: sst38s, color: '#000', width: 1.3 }]}
      />
      <Panel
        top={975}
        bottom={1135}
        axes={[{ id: 'j', side: 'right', x: R, color: '#000', v1: 16, p1: 985, v2: 8, p2: 1125, ticks: ticksJ, labels: labelsJ }]}
        series={[{ axis: 'j', data: sst41s, color: '#000', width: 1.3 }]}
      />
      <Panel
        top={1025}
        bottom={1195}
        axes={[{ id: 'k', side: 'left', x: L, color: '#000', v1: -36, p1: 1048, v2: -42, p2: 1190, ticks: ticksK, labels: labelsK }]}
        series={[{ axis: 'k', data: antarctic, color: '#000', width: 1.5 }]}
      />
      <AxesChart />
      <Overlay />
    </div>
  );
}
